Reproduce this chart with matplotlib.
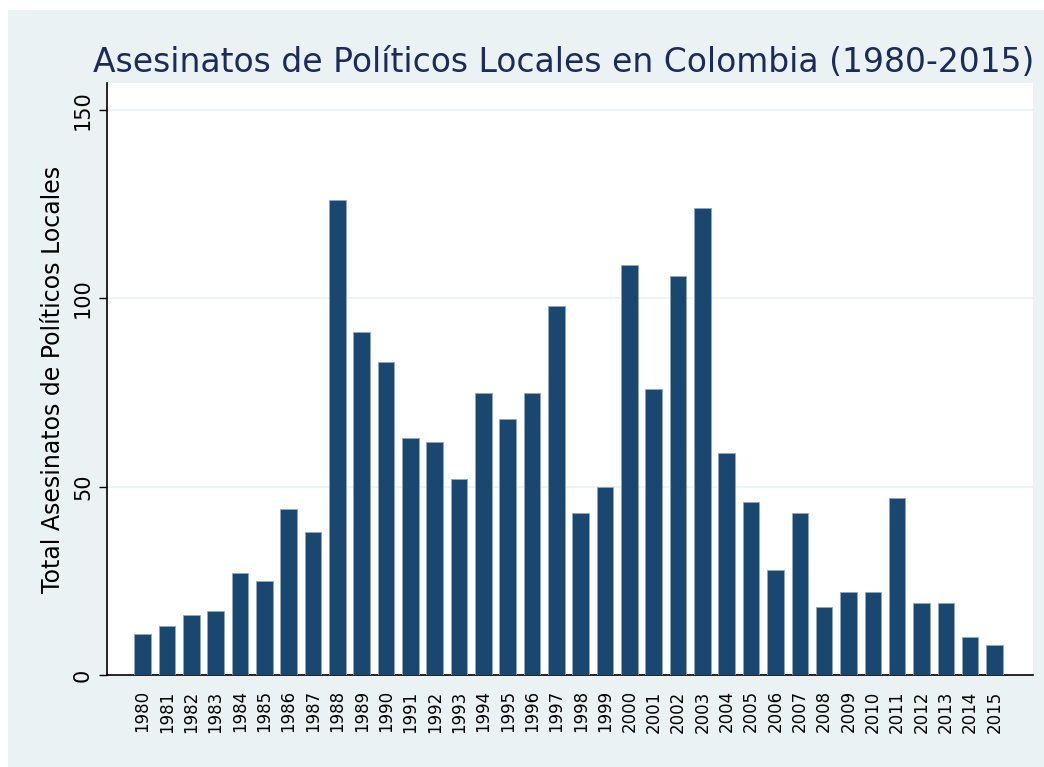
import matplotlib.pyplot as plt
from matplotlib.patches import Rectangle
import numpy as np

# datos
years = list(range(1980, 2016))
asesinatos = [11, 13, 16, 17, 27, 25, 44, 38, 126, 91,
              83, 63, 62, 52, 75, 68, 75, 98, 43, 50,
              109, 76, 106, 124, 59, 46, 28, 43, 18, 22,
              22, 47, 19, 19, 10, 8]
yticks = [0, 50, 100, 150]

bg = "#EAF2F3"
navy = "#1A476F"

plt.rcParams['font.family'] = ['DejaVu Sans']

fig = plt.figure(figsize=(10.44, 7.67), dpi=100, facecolor="white")
# fondo gris-azulado de la region del grafico (estilo Stata)
fig.patches.append(Rectangle((8 / 1044, 0), 1 - 8 / 1044, 1 - 10 / 767,
                             transform=fig.transFigure, facecolor=bg,
                             edgecolor="none", zorder=-10))

ax = fig.add_axes([107 / 1044, 92 / 767, (1033 - 107) / 1044, (675 - 83) / 767])
ax.set_facecolor("white")

x = np.arange(len(years))
ax.bar(x, asesinatos, width=0.68, color=navy, edgecolor="#8FA8BF",
       linewidth=0.6, zorder=3)

ax.set_xlim(-1.46, len(years) - 1 + 1.58)
ax.set_ylim(0, 157.2)

ax.set_yticks(yticks)
ax.set_yticklabels([str(v) for v in yticks], rotation=90, va="center",
                   fontsize=15)
ax.tick_params(axis="y", length=6, width=1, pad=4, colors="black")
ax.grid(axis="y", color=bg, linewidth=1.2, zorder=0)

ax.set_xticks(x)
ax.set_xticklabels([str(y) for y in years], rotation=90, fontsize=12)
ax.tick_params(axis="x", length=0, pad=11)

for s in ["top", "right"]:
    ax.spines[s].set_visible(False)
ax.spines["left"].set_linewidth(1.2)
ax.spines["bottom"].set_linewidth(1.2)

ax.set_ylabel("Total Asesinatos de Políticos Locales", fontsize=17, labelpad=6)

fig.text(93 / 1044, 1 - 62 / 767, "Asesinatos de Políticos Locales en Colombia (1980-2015)",
         fontsize=23.8, color="#1C2B5A", ha="left", va="center")

fig.savefig("out.png", dpi=100, facecolor="white")
